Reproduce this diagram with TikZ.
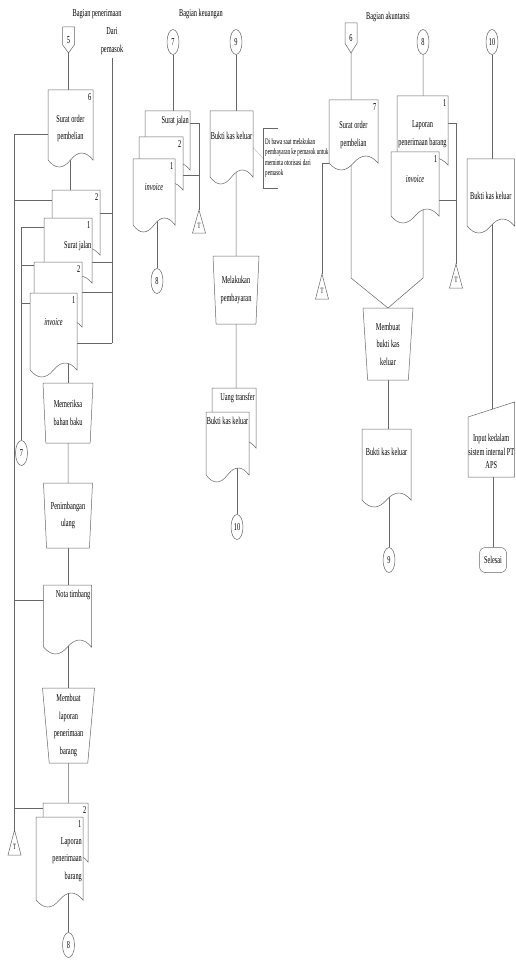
\documentclass[tikz,border=0pt]{standalone}
\usepackage{fontspec}
\setmainfont{Liberation Serif}[FakeStretch=0.6]
\usetikzlibrary{shapes.geometric,backgrounds}

\newcommand{\fnorm}{\fontsize{10.5}{17.5}\selectfont}
\newcommand{\fnote}{\fontsize{8.5}{10.5}\selectfont}
\newcommand{\docamp}{7pt}
\newcommand{\inslope}{15pt}

\makeatletter
\newdimen\shL \newdimen\shR \newdimen\shT \newdimen\shB
\newcommand{\getcorners}{\southwest \shL=\pgf@x \shB=\pgf@y \northeast \shR=\pgf@x \shT=\pgf@y}
\newcommand{\rectbase}{%
  \inheritsavedanchors[from=rectangle]%
  \inheritanchorborder[from=rectangle]%
  \inheritanchor[from=rectangle]{center}%
  \inheritanchor[from=rectangle]{north}%
  \inheritanchor[from=rectangle]{south}%
  \inheritanchor[from=rectangle]{east}%
  \inheritanchor[from=rectangle]{west}%
  \inheritanchor[from=rectangle]{north east}%
  \inheritanchor[from=rectangle]{north west}%
  \inheritanchor[from=rectangle]{south east}%
  \inheritanchor[from=rectangle]{south west}}
% dokumen dengan tepi bawah bergelombang
\pgfdeclareshape{docshape}{\rectbase
  \backgroundpath{\getcorners
    \advance\shB by \docamp
    \pgfpathmoveto{\pgfqpoint{\shL}{\shT}}%
    \pgfpathlineto{\pgfqpoint{\shR}{\shT}}%
    \pgfpathlineto{\pgfqpoint{\shR}{\shB}}%
    \pgfpathcurveto{\pgfpoint{\shR-(\shR-\shL)/6}{\shB+1.333*\docamp}}{\pgfpoint{\shR-(\shR-\shL)/3}{\shB+1.333*\docamp}}{\pgfpoint{(\shL+\shR)/2}{\shB}}%
    \pgfpathcurveto{\pgfpoint{\shL+(\shR-\shL)/3}{\shB-1.333*\docamp}}{\pgfpoint{\shL+(\shR-\shL)/6}{\shB-1.333*\docamp}}{\pgfqpoint{\shL}{\shB}}%
    \pgfpathclose}}
% penghubung antar halaman
\pgfdeclareshape{offpageshape}{\rectbase
  \backgroundpath{\getcorners
    \pgfpathmoveto{\pgfqpoint{\shL}{\shT}}%
    \pgfpathlineto{\pgfqpoint{\shR}{\shT}}%
    \pgfpathlineto{\pgfpoint{\shR}{\shB+0.32*(\shT-\shB)}}%
    \pgfpathlineto{\pgfpoint{(\shL+\shR)/2}{\shB}}%
    \pgfpathlineto{\pgfpoint{\shL}{\shB+0.32*(\shT-\shB)}}%
    \pgfpathclose}}
% input manual
\pgfdeclareshape{maninshape}{\rectbase
  \backgroundpath{\getcorners
    \pgfpathmoveto{\pgfpoint{\shL}{\shT-\inslope}}%
    \pgfpathlineto{\pgfqpoint{\shR}{\shT}}%
    \pgfpathlineto{\pgfqpoint{\shR}{\shB}}%
    \pgfpathlineto{\pgfqpoint{\shL}{\shB}}%
    \pgfpathclose}}
% arsip
\pgfdeclareshape{archiveshape}{\rectbase
  \backgroundpath{\getcorners
    \pgfpathmoveto{\pgfqpoint{\shL}{\shB}}%
    \pgfpathlineto{\pgfqpoint{\shR}{\shB}}%
    \pgfpathlineto{\pgfpoint{(\shL+\shR)/2}{\shT}}%
    \pgfpathclose}}
\makeatother

\begin{document}
\begin{tikzpicture}[
  x=1pt, y=-1pt,
  every node/.style={font=\fnorm},
  flow/.style={draw=black!60, line width=0.5pt},
  notelink/.style={draw=black!25, line width=0.5pt},
  doc/.style={shape=docshape, draw=black!60, line width=0.5pt, fill=white, inner sep=1pt, outer sep=0pt, align=center},
  manop/.style={trapezium, trapezium stretches body, shape border rotate=180, trapezium angle=84, draw=black!60, line width=0.5pt, fill=white, inner sep=1pt, outer sep=0pt, align=center},
  offp/.style={shape=offpageshape, draw=black!60, line width=0.5pt, fill=white, minimum width=12, minimum height=26, inner sep=0pt, outer sep=0pt},
  inbox/.style={shape=maninshape, draw=black!60, line width=0.5pt, fill=white, inner sep=1pt, outer sep=0pt},
  arch/.style={shape=archiveshape, draw=black!60, line width=0.5pt, fill=white, minimum width=13, minimum height=25, inner sep=0pt, outer sep=0pt, text height=13pt, text depth=0pt, font=\fontsize{8}{8}\selectfont},
  conn/.style={ellipse, draw=black!60, line width=0.5pt, fill=white, minimum width=12, minimum height=25, inner sep=0pt},
  term/.style={rectangle, rounded corners=6pt, draw=black!60, line width=0.5pt, fill=white, minimum width=27, minimum height=25, inner sep=1pt},
  num/.style={anchor=north east, inner sep=1.5pt, yshift=-2pt},
  notebox/.style={anchor=north west, align=left, inner sep=2pt, minimum height=60, font=\fnote}
]
  \useasboundingbox (0,0) rectangle (515,960);

  % Judul bagian
  \node (hpen) at (97,14) {Bagian penerimaan};
  \node[align=center] (dari) at (112,41) {Dari\\pemasok};
  \node (hkeu) at (201,14) {Bagian keuangan};
  \node (hakt) at (388,17) {Bagian akuntansi};

  % Bagian penerimaan
  \node[offp] (off5) at (68.5,40) {5};
  \node[doc, minimum width=45, minimum height=77, label={[num]north east:6}] (so1) at (70.5,128.5) {Surat order\\pembelian};
  \node[doc, minimum width=48, minimum height=72, label={[num]north east:2}] (dA) at (76,226) {};
  \node[doc, minimum width=48, minimum height=72, label={[num]north east:1}, label={[anchor=east, inner sep=0.5pt, yshift=8pt]east:Surat jalan}] (dB) at (68,254) {};
  \node[doc, minimum width=48, minimum height=72, label={[num]north east:2}] (dC) at (58,298) {};
  \node[doc, minimum width=47, minimum height=84, label={[num]north east:1}, label={[yshift=13pt]center:\textit{invoice}}] (dD) at (53.5,335) {};
  \node[manop, minimum width=50, minimum height=60] (mem) at (68,413) {Memeriksa\\bahan baku};
  \node[manop, minimum width=49, minimum height=65] (pen) at (68,515.5) {Penimbangan\\ulang};
  \node[doc, minimum width=48, minimum height=69, label={[anchor=north east, inner sep=1pt, yshift=-4pt]north east:Nota timbang}] (nota) at (67.5,619.5) {};
  \node[manop, minimum width=52, minimum height=75] (mlp) at (68.5,725.5) {Membuat\\laporan\\penerimaan\\barang};
  \node[doc, minimum width=45, minimum height=66, label={[num]north east:2}] (lap2) at (65.5,836) {};
  \node[doc, minimum width=47, minimum height=90, label={[num]north east:1}, label={[anchor=north east, align=right, inner sep=1pt, yshift=-19pt]north east:Laporan\\penerimaan\\barang}] (lap1) at (59.5,862) {};
  \node[conn] (c8a) at (68.5,945) {8};
  \node[conn] (c7a) at (21.5,453) {7};
  \node[arch] (arch1) at (14.5,842.5) {T};
  \coordinate (pm) at (112,343);

  % Bagian keuangan
  \node[conn] (c7b) at (173,42) {7};
  \node[doc, minimum width=45, minimum height=66, label={[anchor=north east, inner sep=1pt, yshift=-4pt]north east:Surat jalan}] (kSJ) at (167.5,144) {};
  \node[doc, minimum width=44, minimum height=60, label={[num]north east:2}] (k2) at (161,167) {};
  \node[doc, minimum width=42, minimum height=73, label={[num]north east:1}, label={[yshift=8pt]center:\textit{invoice}}] (kInv) at (154,195.5) {};
  \node[arch, minimum height=23] (arch2) at (199,221.5) {T};
  \node[conn] (c8b) at (157,281) {8};
  \node[conn] (c9a) at (236,42) {9};
  \node[doc, minimum width=43, minimum height=73, label={[yshift=12pt]center:Bukti kas keluar}] (bkk1) at (231.5,147.5) {};
  \node[notebox] (note) at (263,128) {Di bawa saat melakukan\\pembayaran ke pemasok untuk\\meminta otorisasi dari\\pemasok};
  \draw[flow] ([xshift=15pt]note.north west) -- (note.north west) -- (note.south west) -- ([xshift=15pt]note.south west);
  \node[manop, minimum width=46, minimum height=68] (mpb) at (236,290) {Melakukan\\pembayaran};
  \node[doc, minimum width=44, minimum height=67, label={[anchor=north east, inner sep=1pt, yshift=-4pt]north east:Uang transfer}] (ut) at (234,421.5) {};
  \node[doc, minimum width=43, minimum height=70, label={[anchor=north, inner sep=1pt, yshift=-4pt]north:Bukti kas keluar}] (bkk2) at (227.5,447) {};
  \node[conn] (c10a) at (237,527) {10};

  % Bagian akuntansi
  \node[offp, minimum height=30] (off6) at (351,38) {6};
  \node[doc, minimum width=49, minimum height=70, label={[num]north east:7}] (so2) at (353.5,135) {Surat order\\pembelian};
  \node[arch] (arch3) at (322,286.5) {T};
  \coordinate (fl) at (351,278);
  \coordinate (fr) at (423,278);
  \node[manop, minimum width=50, minimum height=72] (mbk) at (388,344) {Membuat\\bukti kas\\keluar};
  \node[doc, minimum width=49, minimum height=78, label={[yshift=16pt]center:Bukti kas keluar}] (bkk3) at (386.5,468) {};
  \node[conn] (c9b) at (389,560) {9};
  \node[conn] (c8c) at (423,42) {8};
  \node[doc, minimum width=51, minimum height=76, label={[num]north east:1}] (lapA) at (422.5,134) {Laporan\\penerimaan barang};
  \node[doc, minimum width=48, minimum height=71, label={[num]north east:1}, label={[yshift=8pt]center:\textit{invoice}}] (aInv) at (415,187.5) {};
  \node[arch, minimum height=24] (arch4) at (456,276) {T};
  \node[conn] (c10b) at (492,42) {10};
  \node[doc, minimum width=47.5, minimum height=74] (bkk4) at (490.75,196) {Bukti kas keluar};
  \node[inbox, minimum width=46.5, minimum height=75, label={[align=center, yshift=-12pt, font=\fontsize{10.5}{13.5}\selectfont]center:Input kedalam\\sistem internal PT\\APS}] (inp) at (491.25,439.5) {};
  \node[term] (sel) at (493,560) {Selesai};

  % Garis alir
  \begin{scope}[on background layer]
    \draw[flow] (off5) -- (off5 |- so1);
    \draw[flow] (so1.center) -- (so1 |- dA);
    \draw[flow] (mem) -- (mem |- dD);
    \draw[flow] (mem) -- (pen);
    \draw[flow] (pen) -- (pen |- nota);
    \draw[flow] (mlp) -- (mlp |- nota);
    \draw[flow] (mlp) -- (mlp |- lap2);
    \draw[flow] (c8a) -- (c8a |- lap1);
    \draw[flow] ([yshift=-6pt]so1.west) -| (arch1);
    \draw[flow] ([yshift=-10pt]dA.north west) -| (arch1);
    \draw[flow] ([yshift=-15pt]nota.north west) -| (arch1);
    \draw[flow] ([yshift=-5pt]lap2.north west) -| (arch1);
    \draw[flow] ([yshift=-9pt]dB.north west) -| (c7a);
    \draw[flow] ([yshift=-3pt]dC.north west) -| (c7a);
    \draw[flow] ([yshift=-10pt]dD.north west) -| (c7a);
    \draw[flow] (dari.south) -- (pm);
    \draw[flow] (pm) |- ([yshift=-23pt]dA.north east);
    \draw[flow] (pm) |- ([yshift=-44pt]dB.north east);
    \draw[flow] (pm) |- ([yshift=-30pt]dC.north east);
    \draw[flow] (pm) |- ([yshift=-50pt]dD.north east);

    \draw[flow] (c7b) -- (c7b |- kSJ);
    \draw[flow] ([yshift=-12pt]kSJ.north east) -| (arch2);
    \draw[flow] ([yshift=-38pt]k2.north east) -| (arch2);
    \draw[flow] (c8b) -- (c8b |- kInv);
    \draw[flow] (c9a) -- (c9a |- bkk1);
    \draw[flow] (mpb) -- (mpb |- bkk1);
    \draw[flow] (mpb) -- (mpb |- ut);
    \draw[flow] (c10a) -- (c10a |- bkk2);
    \draw[notelink] (bkk1.east) -- (note.west);

    \draw[flow] (off6) -- (fl) -- (mbk.north);
    \draw[flow] ([yshift=7pt]so2.south west) -| (arch3);
    \draw[flow] (c8c) -- (fr) -- (mbk.north);
    \draw[flow] ([yshift=-27pt]lapA.north east) -| (arch4);
    \draw[flow] ([yshift=-48pt]aInv.north east) -| (arch4);
    \draw[flow] (mbk) -- (mbk |- bkk3);
    \draw[flow] (c9b) -- (c9b |- bkk3);
    \draw[flow] (c10b) -- (c10b |- inp);
    \draw[flow] (sel) -- (sel |- inp);
  \end{scope}
\end{tikzpicture}
\end{document}
